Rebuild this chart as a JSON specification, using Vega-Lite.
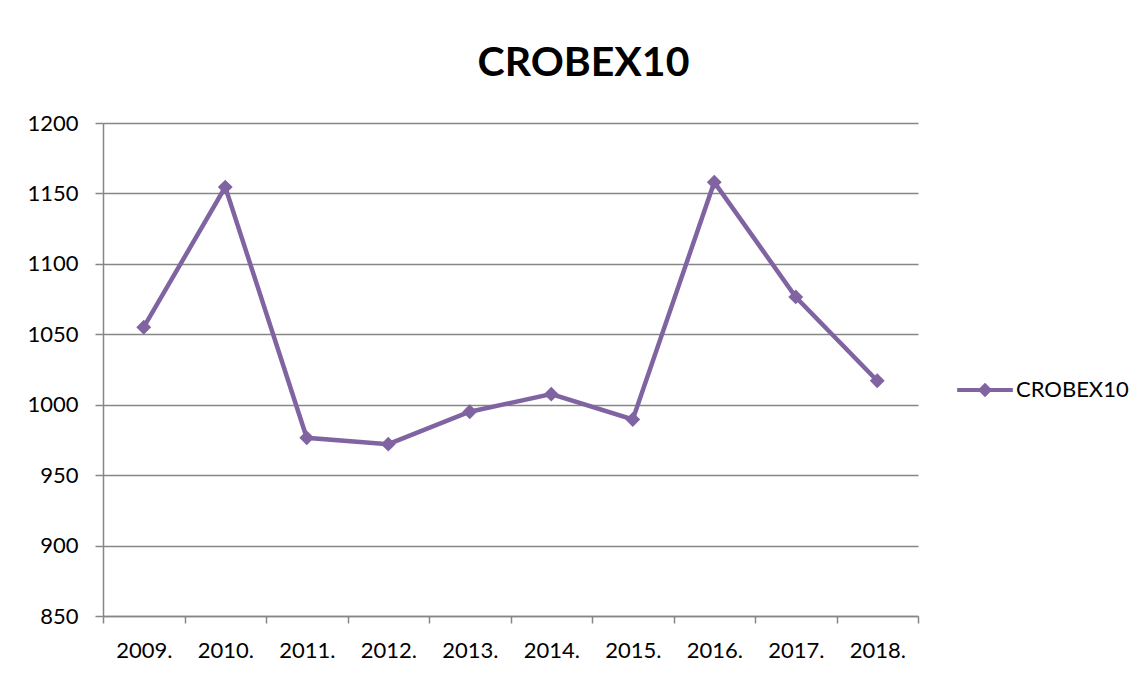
{
  "$schema": "https://vega.github.io/schema/vega-lite/v6.json",
  "width": 815,
  "height": 493,
  "autosize": "none",
  "padding": {"left": 103, "top": 123, "right": 227, "bottom": 61},
  "background": "white",
  "title": {
    "text": "CROBEX10",
    "anchor": "middle",
    "frame": "group",
    "dx": 73,
    "offset": -5,
    "font": "Lato",
    "fontSize": 41,
    "fontWeight": "bold",
    "color": "#000000",
    "baseline": "alphabetic"
  },
  "data": {
    "values": [
      {"year": "2009.", "value": 1055, "series": "CROBEX10"},
      {"year": "2010.", "value": 1154.5, "series": "CROBEX10"},
      {"year": "2011.", "value": 976.5, "series": "CROBEX10"},
      {"year": "2012.", "value": 972, "series": "CROBEX10"},
      {"year": "2013.", "value": 995, "series": "CROBEX10"},
      {"year": "2014.", "value": 1007.5, "series": "CROBEX10"},
      {"year": "2015.", "value": 989.5, "series": "CROBEX10"},
      {"year": "2016.", "value": 1158, "series": "CROBEX10"},
      {"year": "2017.", "value": 1076.5, "series": "CROBEX10"},
      {"year": "2018.", "value": 1017, "series": "CROBEX10"}
    ]
  },
  "mark": {"type": "line", "strokeWidth": 4.5, "point": {"shape": "diamond", "size": 220, "filled": true, "opacity": 1}},
  "encoding": {
    "x": {
      "field": "year",
      "type": "ordinal",
      "sort": null,
      "scale": {"type": "band", "paddingInner": 0, "paddingOuter": 0},
      "axis": {
        "title": null,
        "labelAngle": 0,
        "tickBand": "extent",
        "domainColor": "#868686",
        "domainWidth": 1.5,
        "tickColor": "#868686",
        "tickWidth": 1.5,
        "tickSize": 7,
        "labelFont": "Lato",
        "labelFontSize": 22,
        "labelColor": "#000000",
        "labelPadding": 17,
        "grid": false
      }
    },
    "y": {
      "field": "value",
      "type": "quantitative",
      "scale": {"domain": [850, 1200], "nice": false, "zero": false},
      "axis": {
        "title": null,
        "format": "d",
        "values": [850, 900, 950, 1000, 1050, 1100, 1150, 1200],
        "domainColor": "#868686",
        "domainWidth": 1.5,
        "tickColor": "#868686",
        "tickWidth": 1.5,
        "tickSize": 8,
        "gridColor": "#868686",
        "gridWidth": 1.5,
        "gridOpacity": 1,
        "labelFont": "Lato",
        "labelFontSize": 22,
        "labelColor": "#000000",
        "labelPadding": 17
      }
    },
    "color": {
      "field": "series",
      "type": "nominal",
      "scale": {"range": ["#8064A2"]},
      "legend": {
        "title": null,
        "orient": "none",
        "legendX": 854,
        "legendY": 239,
        "symbolType": "M-1,-0.07H1V0.07H-1Z M0,-0.26L0.26,0L0,0.26L-0.26,0Z",
        "symbolSize": 3100,
        "symbolStrokeWidth": 0,
        "symbolFillColor": "#8064A2",
        "labelFont": "Lato",
        "labelFontSize": 22,
        "labelColor": "#000000",
        "labelOffset": 3
      }
    }
  },
  "config": {
    "view": {"stroke": null}
  }
}
